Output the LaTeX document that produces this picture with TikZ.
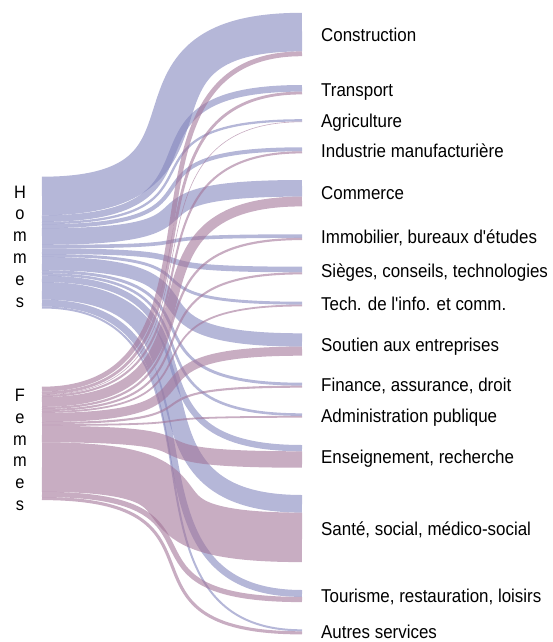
\documentclass[tikz,border=0pt]{standalone}
\usepackage{fontspec}
\usetikzlibrary{calc}
\newfontfamily\labfont{Liberation Sans}[FakeStretch=0.91]
\definecolor{hcol}{RGB}{132,135,190}
\definecolor{fcol}{RGB}{163,118,153}
\newcommand{\flowctrl}{208}
\newcommand{\sflow}[5]{%
  \coordinate (#2L) at (42,#4);
  \coordinate (#2R) at (302,#5);
  \draw[#1, line width=#3pt] (#2L) .. controls ($(#2L)+(\flowctrl,0)$) and ($(#2R)+(-\flowctrl,0)$) .. (#2R);
}
\begin{document}
\begin{tikzpicture}[x=1pt,y=-1pt,
  hflow/.style={draw=hcol, draw opacity=0.6, line cap=butt},
  fflow/.style={draw=fcol, draw opacity=0.6, line cap=butt},
  lab/.style={anchor=base west, inner sep=0pt, font=\labfont\fontsize{18.6}{20}\selectfont, text=black},
  side/.style={anchor=base, inner sep=0pt, font=\labfont\fontsize{18}{20}\selectfont, text=black}]
\useasboundingbox (0,0) rectangle (553,642);
% Hommes flows
\sflow{hflow}{h1}{38.6}{196.0}{32.1}
\sflow{hflow}{h2}{6.6}{218.6}{88.3}
\sflow{hflow}{h3}{2.3}{223.05}{120.35}
\sflow{hflow}{h4}{4.0}{226.2}{149.3}
\sflow{hflow}{h5}{16.6}{236.5}{188.3}
\sflow{hflow}{h6}{3.6}{246.6}{236.1}
\sflow{hflow}{h7}{5.6}{251.2}{269.5}
\sflow{hflow}{h8}{2.9}{255.45}{303.15}
\sflow{hflow}{h9}{13.3}{263.55}{339.95}
\sflow{hflow}{h10}{2.9}{271.65}{384.15}
\sflow{hflow}{h11}{2.6}{274.4}{414.6}
\sflow{hflow}{h12}{6.3}{278.85}{448.15}
\sflow{hflow}{h13}{17.6}{290.8}{503.8}
\sflow{hflow}{h14}{6.9}{303.05}{593.45}
\sflow{hflow}{h15}{2.0}{307.5}{630.3}
% Femmes flows
\sflow{fflow}{f1}{4.8}{389.1}{53.8}
\sflow{fflow}{f2}{2.8}{392.9}{93.0}
\sflow{fflow}{f3}{0.6}{394.6}{121.8}
\sflow{fflow}{f4}{2.1}{395.95}{152.35}
\sflow{fflow}{f5}{9.8}{401.9}{201.5}
\sflow{fflow}{f6}{2.2}{407.9}{239.0}
\sflow{fflow}{f7}{2.1}{410.05}{273.35}
\sflow{fflow}{f8}{1.8}{412.0}{305.5}
\sflow{fflow}{f9}{9.1}{417.45}{351.15}
\sflow{fflow}{f10}{2.1}{423.05}{386.65}
\sflow{fflow}{f11}{1.8}{425.0}{416.8}
\sflow{fflow}{f12}{16.4}{434.1}{459.5}
\sflow{fflow}{f13}{49.5}{467.05}{537.35}
\sflow{fflow}{f14}{5.2}{494.4}{599.5}
\sflow{fflow}{f15}{3.1}{498.55}{632.85}
% right labels
\node[lab] (l1) at (321,41.2) {Construction};
\node[lab] (l2) at (321,96.4) {Transport};
\node[lab] (l3) at (321,127.3) {Agriculture};
\node[lab] (l4) at (321,157.0) {Industrie manufacturière};
\node[lab] (l5) at (321,199.9) {Commerce};
\node[lab] (l6) at (321,243.9) {Immobilier, bureaux d'études};
\node[lab] (l7) at (321,277.2) {Sièges, conseils, technologies};
\node[lab] (l8) at (321,310.7) {Tech. de l'info. et comm.};
\node[lab] (l9) at (321,351.2) {Soutien aux entreprises};
\node[lab] (l10) at (321,391.9) {Finance, assurance, droit};
\node[lab] (l11) at (321,422.2) {Administration publique};
\node[lab] (l12) at (321,463.0) {Enseignement, recherche};
\node[lab] (l13) at (321,535.2) {Santé, social, médico-social};
\node[lab] (l14) at (321,602.7) {Tourisme, restauration, loisirs};
\node[lab] (l15) at (321,638.5) {Autres services};
% left vertical labels
\node[side] (hA) at (20,198) {H};
\node[side] (hB) at (20,219.8) {o};
\node[side] (hC) at (20,241.6) {m};
\node[side] (hD) at (20,263.4) {m};
\node[side] (hE) at (20,285.2) {e};
\node[side] (hF) at (20,307) {s};
\node[side] (fA) at (20,401.7) {F};
\node[side] (fB) at (20,423.4) {e};
\node[side] (fC) at (20,445.1) {m};
\node[side] (fD) at (20,466.8) {m};
\node[side] (fE) at (20,488.5) {e};
\node[side] (fF) at (20,510.2) {s};
\end{tikzpicture}
\end{document}
